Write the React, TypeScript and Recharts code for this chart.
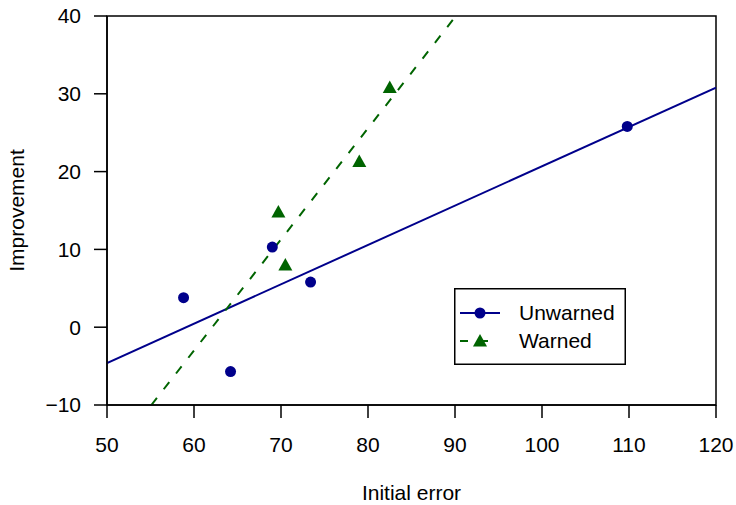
import React from 'react';
import { ComposedChart, Scatter, Line, XAxis, YAxis, ReferenceArea, Legend, Label } from 'recharts';

// Observed points
const unwarnedX = [58.8, 64.2, 69.0, 73.4, 109.8];
const unwarnedY = [3.8, -5.7, 10.3, 5.8, 25.8];
const warnedX = [69.7, 70.5, 79.0, 82.5];
const warnedY = [14.8, 8.0, 21.3, 30.8];

// Fitted lines (end points)
const unwarnedFitX = [50, 120];
const unwarnedFitY = [-4.6, 30.8];
const warnedFitX = [55.1, 90.1];
const warnedFitY = [-10, 40];

const xTicks = [50, 60, 70, 80, 90, 100, 110, 120];
const yTicks = [-10, 0, 10, 20, 30, 40];

const BLUE = '#00008B';
const GREEN = '#006400';
const FONT = '"Liberation Sans", Arial, sans-serif';
const FS = 21;

const zip = (xs: number[], ys: number[]) => xs.map((x, i) => ({ x, y: ys[i] }));

const unwarned = zip(unwarnedX, unwarnedY);
const warned = zip(warnedX, warnedY);
const unwarnedFit = zip(unwarnedFitX, unwarnedFitY);
const warnedFit = zip(warnedFitX, warnedFitY);

const fmt = (v: number) => (v < 0 ? `\u2212${-v}` : `${v}`);

const Dot = ({ cx, cy }: any) => <circle cx={cx} cy={cy} r={5.5} fill={BLUE} />;
const Tri = ({ cx, cy }: any) => (
  <polygon points={`${cx},${cy - 7} ${cx - 7},${cy + 5.5} ${cx + 7},${cy + 5.5}`} fill={GREEN} />
);

const LegendBox = () => (
  <svg width={172} height={77} style={{ display: 'block' }}>
    <rect x={0.75} y={0.75} width={170.5} height={75.5} fill="#fff" stroke="#000" strokeWidth={1.5} />
    <line x1={6} x2={46} y1={25} y2={25} stroke={BLUE} strokeWidth={2} />
    <circle cx={26} cy={25} r={5.5} fill={BLUE} />
    <line x1={6} x2={46} y1={53} y2={53} stroke={GREEN} strokeWidth={2} strokeDasharray="8 12" />
    <polygon points="26,46 19,58.5 33,58.5" fill={GREEN} />
    <text x={65} y={25} dy="0.35em" fontSize={FS} fontFamily={FONT} fill="#000">Unwarned</text>
    <text x={65} y={53} dy="0.35em" fontSize={FS} fontFamily={FONT} fill="#000">Warned</text>
  </svg>
);

const YTitle = ({ viewBox }: any) => {
  const cy = viewBox.y + viewBox.height / 2;
  return (
    <text x={24} y={cy} transform={`rotate(-90, 24, ${cy})`} textAnchor="middle" fontSize={FS} fontFamily={FONT} fill="#000">
      Improvement
    </text>
  );
};

export default function App() {
  return (
    <div style={{ position: 'absolute', left: 0, top: 0, background: '#fff' }}>
      <ComposedChart
        width={736}
        height={505}
        margin={{ top: 16, right: 20, bottom: 0, left: 0 }}
        style={{ fontFamily: FONT }}
      >
        <XAxis
          type="number"
          dataKey="x"
          domain={[50, 120]}
          ticks={xTicks}
          allowDataOverflow
          height={100}
          tickSize={13}
          tickMargin={19}
          stroke="#000"
          strokeWidth={1.5}
          tick={{ fill: '#000', fontSize: FS }}
        >
          <Label value="Initial error" position="insideBottom" offset={5} fill="#000" fontSize={FS} />
        </XAxis>
        <YAxis
          type="number"
          dataKey="y"
          domain={[-10, 40]}
          ticks={yTicks}
          allowDataOverflow
          width={107}
          tickSize={13}
          tickMargin={13}
          tickFormatter={fmt}
          stroke="#000"
          strokeWidth={1.5}
          tick={{ fill: '#000', fontSize: FS }}
        >
          <Label content={<YTitle />} />
        </YAxis>
        <ReferenceArea x1={50} x2={120} y1={-10} y2={40} fill="none" stroke="#000" strokeWidth={1.5} />
        <Line
          data={unwarnedFit}
          dataKey="y"
          type="linear"
          stroke={BLUE}
          strokeWidth={2}
          dot={false}
          activeDot={false}
          isAnimationActive={false}
          legendType="none"
        />
        <Line
          data={warnedFit}
          dataKey="y"
          type="linear"
          stroke={GREEN}
          strokeWidth={2}
          strokeDasharray="9 11"
          dot={false}
          activeDot={false}
          isAnimationActive={false}
          legendType="none"
        />
        <Scatter name="Unwarned" data={unwarned} dataKey="y" shape={<Dot />} isAnimationActive={false} />
        <Scatter name="Warned" data={warned} dataKey="y" shape={<Tri />} isAnimationActive={false} />
        <Legend
          layout="horizontal"
          verticalAlign="middle"
          align="center"
          content={<LegendBox />}
          wrapperStyle={{ position: 'absolute', left: 454, top: 288, width: 172, height: 77 }}
        />
      </ComposedChart>
    </div>
  );
}
